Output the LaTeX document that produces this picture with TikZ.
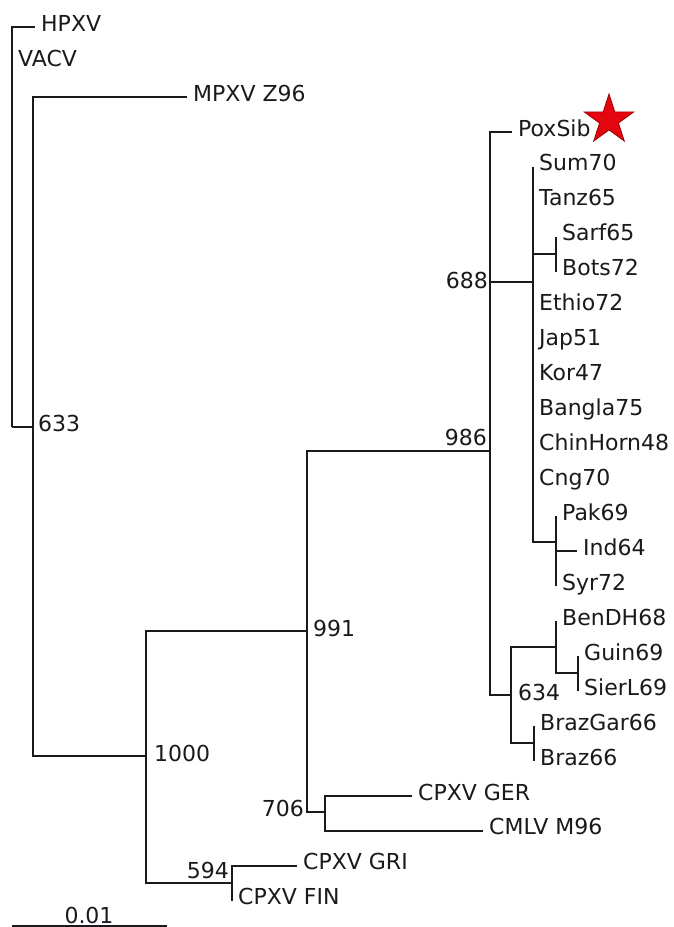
\documentclass[tikz,border=0pt]{standalone}
\usepackage{fontspec}
\setmainfont{DejaVu Sans}
\usetikzlibrary{shapes.geometric}
\definecolor{starfill}{RGB}{228,6,14}
\definecolor{stardraw}{RGB}{160,0,0}
\definecolor{ink}{RGB}{25,25,30}
\begin{document}
\begin{tikzpicture}[x=1pt,y=-1pt,
  br/.style={line width=2pt, ink},
  txt/.style={inner sep=0pt, text=ink, font=\fontsize{22}{26}\selectfont},
  lab/.style={txt, anchor=base west, xshift=6pt, yshift=-4pt},
  bsw/.style={txt, anchor=base west},
  bse/.style={txt, anchor=base east}]
\useasboundingbox (0,0) rectangle (674,927);
% internal nodes
\coordinate (root) at (12,427);
\coordinate (n633) at (33,427);
\coordinate (n1000) at (146,756);
\coordinate (n991) at (307,631);
\coordinate (n986) at (490,451);
\coordinate (n688) at (533,282);
\coordinate (nSB) at (556,254);
\coordinate (nPak) at (556,542);
\coordinate (n634) at (511,695);
\coordinate (nBG) at (556,647);
\coordinate (nGS) at (578,673);
\coordinate (nBraz) at (534,743);
\coordinate (n706) at (325,812);
\coordinate (n594) at (232,883);
% leaf tips
\coordinate (HPXV) at (35,27);
\coordinate (VACV) at (12,62);
\coordinate (MPXV) at (187,97);
\coordinate (PoxSib) at (512,132);
\coordinate (Sum70) at (533,166.8);
\coordinate (Tanz65) at (533,201.8);
\coordinate (Sarf65) at (556,236.7);
\coordinate (Bots72) at (556,271.7);
\coordinate (Ethio72) at (533,306.6);
\coordinate (Jap51) at (533,341.6);
\coordinate (Kor47) at (533,376.5);
\coordinate (Bangla75) at (533,411.5);
\coordinate (ChinHorn48) at (533,446.4);
\coordinate (Cng70) at (533,481.4);
\coordinate (Pak69) at (556,516.3);
\coordinate (Ind64) at (577,551.3);
\coordinate (Syr72) at (556,586.2);
\coordinate (BenDH68) at (556,621.2);
\coordinate (Guin69) at (578,656.1);
\coordinate (SierL69) at (578,691.1);
\coordinate (BrazGar66) at (534,726);
\coordinate (Braz66) at (534,761);
\coordinate (CPXVGER) at (412,796);
\coordinate (CMLVM96) at (483,830.9);
\coordinate (CPXVGRI) at (297,865.8);
\coordinate (CPXVFIN) at (232,900.8);
% branches
\foreach \p/\c in {root/HPXV, root/VACV, root/n633,
  n633/MPXV, n633/n1000,
  n1000/n991, n1000/n594,
  n991/n986, n991/n706,
  n986/PoxSib, n986/n688, n986/n634,
  n688/Sum70, n688/Tanz65, n688/nSB, n688/Ethio72, n688/Jap51, n688/Kor47,
  n688/Bangla75, n688/ChinHorn48, n688/Cng70, n688/nPak,
  nSB/Sarf65, nSB/Bots72,
  nPak/Pak69, nPak/Ind64, nPak/Syr72,
  n634/nBG, n634/nBraz,
  nBG/BenDH68, nBG/nGS,
  nGS/Guin69, nGS/SierL69,
  nBraz/BrazGar66, nBraz/Braz66,
  n706/CPXVGER, n706/CMLVM96,
  n594/CPXVGRI, n594/CPXVFIN}
  \draw[br] (\p) |- (\c);
% leaf labels
\node[lab] (tHPXV) at (HPXV) {HPXV};
\node[lab] (tVACV) at (VACV) {VACV};
\node[lab] (tMPXV) at (MPXV) {MPXV Z96};
\node[lab] (tPoxSib) at (PoxSib) {PoxSib};
\node[lab] (tSum70) at (Sum70) {Sum70};
\node[lab] (tTanz65) at (Tanz65) {Tanz65};
\node[lab] (tSarf65) at (Sarf65) {Sarf65};
\node[lab] (tBots72) at (Bots72) {Bots72};
\node[lab] (tEthio72) at (Ethio72) {Ethio72};
\node[lab] (tJap51) at (Jap51) {Jap51};
\node[lab] (tKor47) at (Kor47) {Kor47};
\node[lab] (tBangla75) at (Bangla75) {Bangla75};
\node[lab] (tChinHorn48) at (ChinHorn48) {ChinHorn48};
\node[lab] (tCng70) at (Cng70) {Cng70};
\node[lab] (tPak69) at (Pak69) {Pak69};
\node[lab] (tInd64) at (Ind64) {Ind64};
\node[lab] (tSyr72) at (Syr72) {Syr72};
\node[lab] (tBenDH68) at (BenDH68) {BenDH68};
\node[lab] (tGuin69) at (Guin69) {Guin69};
\node[lab] (tSierL69) at (SierL69) {SierL69};
\node[lab] (tBrazGar66) at (BrazGar66) {BrazGar66};
\node[lab] (tBraz66) at (Braz66) {Braz66};
\node[lab] (tCPXVGER) at (CPXVGER) {CPXV GER};
\node[lab] (tCMLVM96) at (CMLVM96) {CMLV M96};
\node[lab] (tCPXVGRI) at (CPXVGRI) {CPXV GRI};
\node[lab] (tCPXVFIN) at (CPXVFIN) {CPXV FIN};
% bootstrap values
\node[bsw] (b633) at (38,431) {633};
\node[bsw] (b1000) at (154,761) {1000};
\node[bsw] (b991) at (313,636) {991};
\node[bse] (b986) at (487,445) {986};
\node[bse] (b688) at (488,288) {688};
\node[bsw] (b634) at (518,700) {634};
\node[bse] (b706) at (304,816) {706};
\node[bse] (b594) at (229,878) {594};
% star
\node[star, star points=5, star point ratio=2.618, minimum size=52pt, inner sep=0pt,
  fill=starfill, draw=stardraw, line width=0.8pt] (star) at (609,120) {};
% scale bar
\coordinate (sbL) at (12,925.5);
\coordinate (sbR) at (167,925.5);
\draw[br] (sbL) -- (sbR);
\node[txt, anchor=base] (sbt) at (89,923) {0.01};
\end{tikzpicture}
\end{document}
